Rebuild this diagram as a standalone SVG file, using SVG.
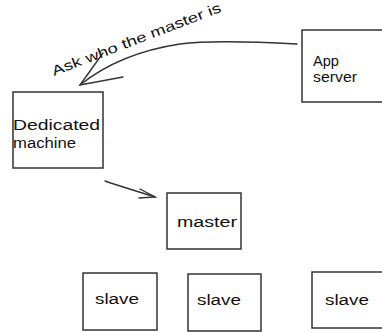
<svg xmlns="http://www.w3.org/2000/svg" width="382" height="332" viewBox="0 0 382 332">
<style>
.box{fill:#fff;stroke:#333;stroke-width:1.5}
.t{font-family:"Liberation Sans","Open Sans",sans-serif;font-size:14px;fill:#111}
.c{fill:none;stroke:#333;stroke-width:1.4;stroke-linecap:round}
</style>
<rect width="382" height="332" fill="#fff"/>
<g id="app-server"><rect class="box" x="302" y="30" width="90" height="72"/><text class="t" x="313" y="66" textLength="26" lengthAdjust="spacingAndGlyphs">App</text><text class="t" x="313" y="82" textLength="44" lengthAdjust="spacingAndGlyphs">server</text></g>
<g id="dedicated-machine"><rect class="box" x="13" y="92" width="90" height="76"/><text class="t" x="13" y="130" textLength="87" lengthAdjust="spacingAndGlyphs">Dedicated</text><text class="t" x="13" y="148" textLength="63" lengthAdjust="spacingAndGlyphs">machine</text></g>
<g id="master"><rect class="box" x="167" y="193" width="74" height="56"/><text class="t" x="177" y="227" textLength="60" lengthAdjust="spacingAndGlyphs">master</text></g>
<g id="slave-1"><rect class="box" x="83" y="273" width="74" height="57"/><text class="t" x="95" y="304" textLength="44" lengthAdjust="spacingAndGlyphs">slave</text></g>
<g id="slave-2"><rect class="box" x="188" y="274" width="73" height="57"/><text class="t" x="197" y="305" textLength="44" lengthAdjust="spacingAndGlyphs">slave</text></g>
<g id="slave-3"><rect class="box" x="312" y="272" width="80" height="56"/><text class="t" x="325" y="305" textLength="44" lengthAdjust="spacingAndGlyphs">slave</text></g>
<g id="connectors">
<path class="c" d="M297 44 C260 42 210 40 180 44 C140 50 105 65 80 85"/>
<path class="c" d="M103 53 L80 85 L123 77"/>
<path class="c" d="M105 181 C122 187 140 192 155 197"/>
<path class="c" d="M140 189 L155 197 L139 198"/>
<text class="t" transform="translate(54 76) rotate(-21)" textLength="180" lengthAdjust="spacingAndGlyphs">Ask who the master is</text>
</g>
</svg>
